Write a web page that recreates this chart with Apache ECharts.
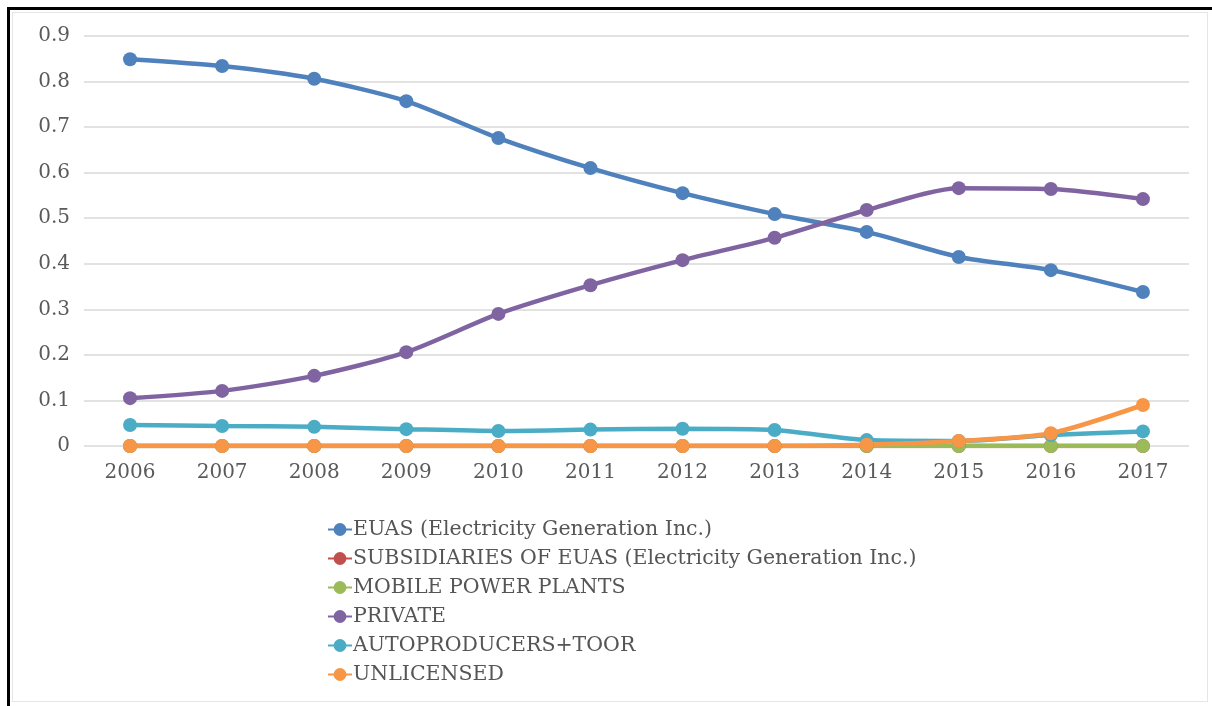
<!DOCTYPE html>
<html>
<head>
<meta charset="utf-8">
<script src="https://cdn.jsdelivr.net/npm/echarts@6/dist/echarts.min.js"></script>
<style>
html,body{margin:0;padding:0;background:#fff;}
#wrap{position:relative;width:1212px;height:706px;overflow:hidden;}
#frame{position:absolute;left:7px;top:7px;width:1212px;height:706px;border-top:3px solid #000;border-left:3px solid #000;box-sizing:border-box;pointer-events:none;}
#inner{position:absolute;left:12px;top:12px;width:1196px;height:690px;border:1px solid #e6e6e6;box-sizing:border-box;pointer-events:none;}
#chart{position:absolute;left:0;top:0;width:1212px;height:706px;}
</style>
</head>
<body>
<div id="wrap">
<div id="chart"></div>
<div id="inner"></div>
<div id="frame"></div>
</div>
<script>
const years = ['2006','2007','2008','2009','2010','2011','2012','2013','2014','2015','2016','2017'];
const seriesNames = ['EUAS (Electricity Generation Inc.)','SUBSIDIARIES OF EUAS (Electricity Generation Inc.)','MOBILE POWER PLANTS','PRIVATE','AUTOPRODUCERS+TOOR','UNLICENSED'];
const euas        = [0.849,0.834,0.806,0.757,0.676,0.610,0.555,0.509,0.470,0.415,0.386,0.338];
const subsidiaries= [0,0,0,0,0,0,0,0,0,0,0,0];
const mobile      = [0,0,0,0,0,0,0,0,0,0,0,0];
const privateS    = [0.105,0.121,0.154,0.206,0.290,0.353,0.408,0.457,0.518,0.566,0.564,0.542];
const autoprod    = [0.046,0.044,0.042,0.037,0.033,0.036,0.038,0.035,0.013,0.011,0.024,0.032];
const unlicensed  = [0,0,0,0,0,0,0,0,0.003,0.011,0.028,0.090];
const yTicks = [0,0.1,0.2,0.3,0.4,0.5,0.6,0.7,0.8,0.9];

const colors = ['#4f81bd','#c0504d','#9bbb59','#8064a2','#4bacc6','#f79646'];
const dataSets = [euas, subsidiaries, mobile, privateS, autoprod, unlicensed];
const font = '"DejaVu Serif", serif';

const chart = echarts.init(document.getElementById('chart'), null, {renderer:'canvas'});
chart.setOption({
  animation:false,
  color: colors,
  grid:{left:84, right:23, top:36, bottom:260, containLabel:false},
  legend:{
    orient:'vertical', left:322, top:514, itemGap:8, itemWidth:24, itemHeight:16,
    textStyle:{color:'#555555', fontSize:20.5, fontFamily:font, padding:[0,0,0,-4]},
    data: seriesNames
  },
  xAxis:{
    type:'category', data:years, boundaryGap:true,
    axisLine:{show:false}, axisTick:{show:false},
    axisLabel:{color:'#5a5a5a', fontSize:20, fontFamily:font, margin:17}
  },
  yAxis:{
    type:'value', min:0, max:0.9, interval:0.1,
    axisLine:{show:false}, axisTick:{show:false},
    splitLine:{lineStyle:{color:'#d9d9d9', width:1.5}},
    axisLabel:{color:'#5a5a5a', fontSize:20, fontFamily:font, margin:14,
      formatter:v=>{const r=Math.round(v*10)/10; return r===0?'0':r.toFixed(1);} }
  },
  series: seriesNames.map((n,i)=>({
    name:n, type:'line', data:dataSets[i], smooth:0.25,
    symbol:'circle', symbolSize:14,
    lineStyle:{width:4.5, color:colors[i]},
    itemStyle:{color:colors[i]}
  }))
});
</script>
</body>
</html>
